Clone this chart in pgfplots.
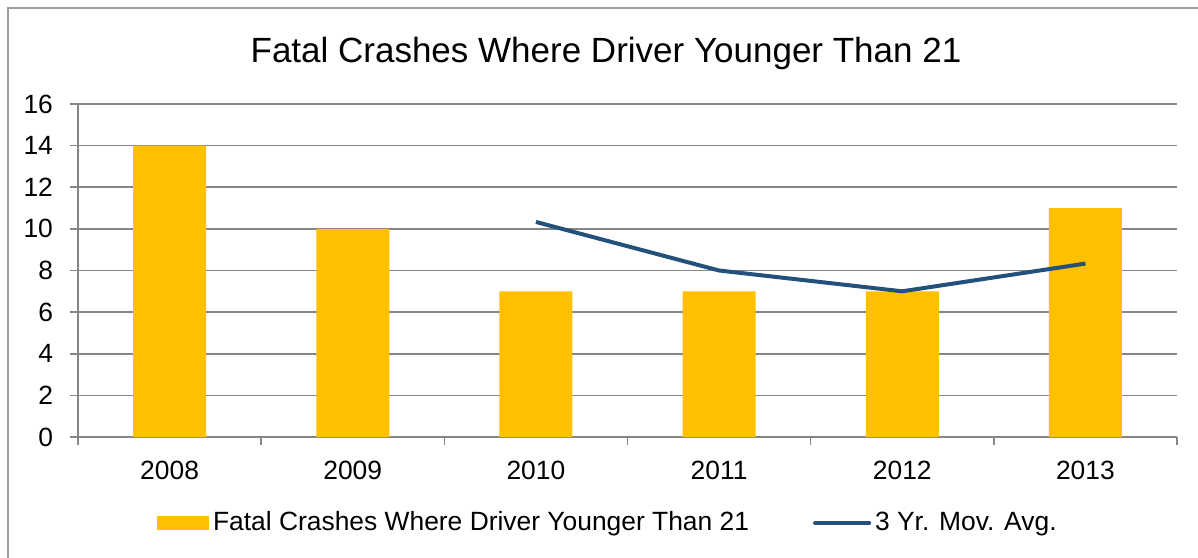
\documentclass[border=0pt]{standalone}
\usepackage{pgfplots}
\pgfplotsset{compat=1.18}
\usepackage{fontspec}
\setmainfont{Liberation Sans}
\definecolor{baryel}{HTML}{FFC000}
\definecolor{avgblue}{HTML}{24507C}
\definecolor{gridg}{HTML}{868686}
\begin{document}
\begin{tikzpicture}
\useasboundingbox (0,0) rectangle (599pt,278.5pt);
\draw[gridg!80, line width=0.8pt] (4pt,-2pt) -- (4pt,274.5pt) -- (602pt,274.5pt);
\node[font=\fontsize{17.5}{20}\selectfont, anchor=base] at (303pt,247pt) {Fatal Crashes Where Driver Younger Than 21};
\begin{axis}[
  at={(39pt,60pt)}, anchor=south west,
  scale only axis, width=549.5pt, height=166.5pt,
  xmin=-0.5, xmax=5.5, ymin=0, ymax=16,
  axis x line*=bottom, axis y line*=left,
  axis line style={gridg, line width=0.8pt, -},
  xtick={0,...,5},
  xticklabels={2008,2009,2010,2011,2012,2013},
  minor xtick={-0.5,0.5,...,5.5},
  major x tick style={draw=none},
  minor x tick style={gridg, line width=0.8pt},
  minor tick length=4pt,
  ytick={0,2,...,16},
  major tick length=4pt,
  y tick style={gridg, line width=0.8pt},
  tick align=outside,
  ymajorgrids,
  grid style={gridg, line width=0.8pt},
  tick label style={font=\fontsize{13.2}{15}\selectfont},
  /pgf/number format/assume math mode=true,
  xticklabel style={yshift=-4.5pt},
  yticklabel style={xshift=-5pt},
  legend columns=2,
  legend style={draw=none, at={(0.483,-0.258)}, anchor=center,
    font=\fontsize{13.2}{15}\selectfont,
    /tikz/every even column/.append style={column sep=30pt}},
]
\addplot[ybar, bar width=36.5pt, fill=baryel, draw=none,
  legend image code/.code={\fill[baryel] (0pt,-3.5pt) rectangle (26pt,3.5pt);}]
  coordinates {(0,14) (1,10) (2,7) (3,7) (4,7) (5,11)};
\addlegendentry{Fatal Crashes Where Driver Younger Than 21}
\addplot[avgblue, line width=2pt, mark=none,
  legend image code/.code={\draw[avgblue, line width=2pt, line cap=round] (0pt,0pt) -- (27pt,0pt);}]
  coordinates {(2,10.333) (3,8) (4,7) (5,8.333)};
\addlegendentry{3 Yr. Mov. Avg.}
\end{axis}
\end{tikzpicture}
\end{document}
